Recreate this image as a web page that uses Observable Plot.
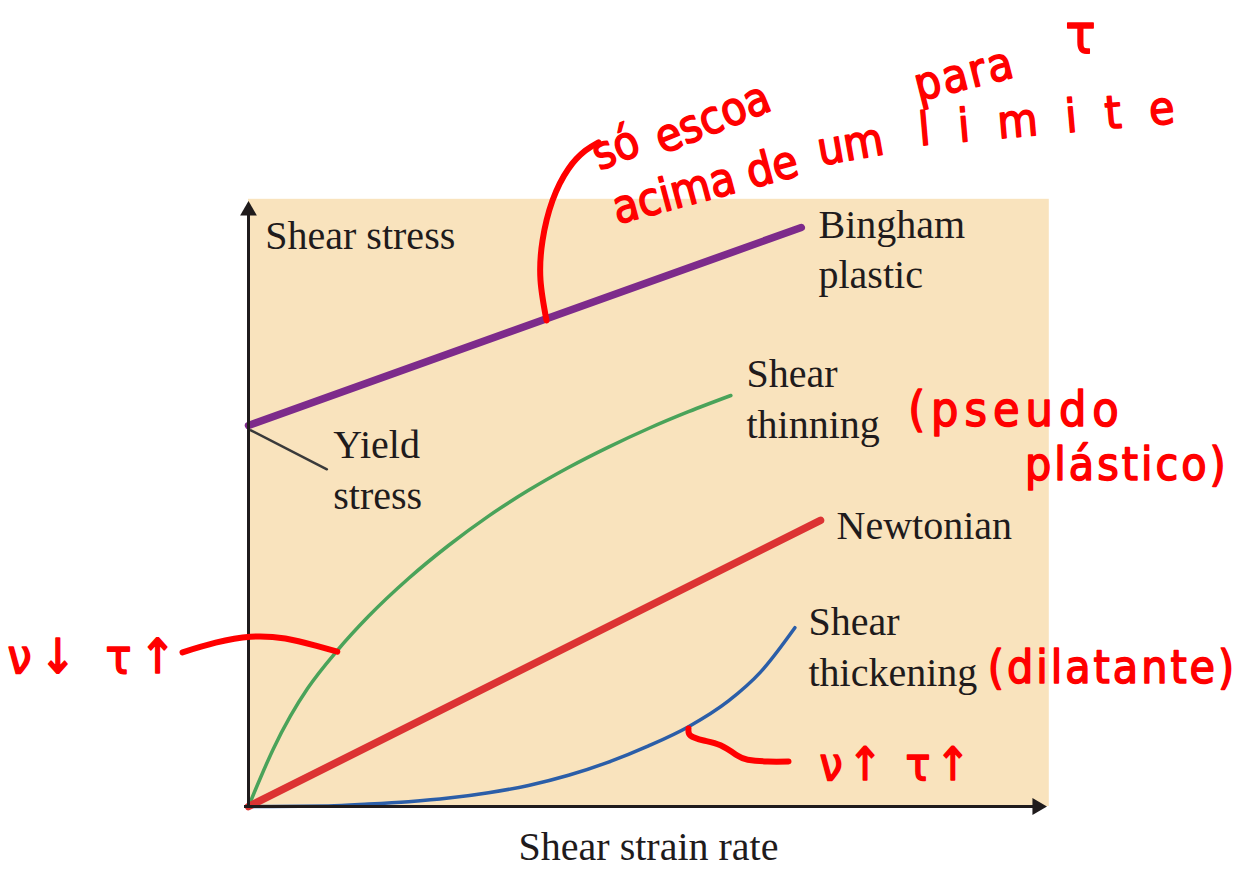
<!DOCTYPE html>
<html>
<head>
<meta charset="utf-8">
<script src="https://cdn.jsdelivr.net/npm/d3@7"></script>
<script src="https://cdn.jsdelivr.net/npm/@observablehq/plot@0.6"></script>
<style>
  html, body { margin: 0; padding: 0; background: #ffffff; }
  #chart svg { display: block; }
</style>
</head>
<body>
<div id="chart"></div>
<script>
// ---- Data (x = shear strain rate, y = shear stress; arbitrary units 0–10) ----
const binghamX = [0, 6.91];
const binghamY = [6.35, 9.65];

const newtonX = [0, 7.15];
const newtonY = [0, 4.77];

const thinningX = [0, 0.15, 0.31, 0.525, 0.74, 1.11, 1.5, 2.0, 2.5, 3.0, 3.5, 4.0, 4.5, 5.0, 5.5, 6.03];
const thinningY = [0, 0.48, 0.96, 1.51, 1.97, 2.6, 3.17, 3.8, 4.35, 4.84, 5.27, 5.65, 5.99, 6.3, 6.58, 6.85];

const thickeningX = [0, 1.0, 1.5, 2.0, 2.5, 3.0, 3.5, 4.0, 4.5, 5.0, 5.5, 6.0, 6.4, 6.83];
const thickeningY = [0, 0.01, 0.04, 0.08, 0.14, 0.23, 0.35, 0.52, 0.74, 1.01, 1.33, 1.76, 2.24, 2.98];

const yieldLeaderX = [0.03, 0.98];
const yieldLeaderY = [6.27, 5.62];

// panel and axes extents
const panelX = [0, 10.01];
const panelY = [0, 10.12];
const axisXEnd = 9.86;
const axisYEnd = 9.93;

// printed labels
const curveLabels = ["Bingham\nplastic", "Shear\nthinning", "Newtonian", "Shear\nthickening", "Yield\nstress"];
const curveLabelX = [7.125, 6.225, 7.35, 7.0, 1.06];
const curveLabelY = [9.33, 6.84, 4.73, 2.7, 5.65];
const yTitle = "Shear stress";
const yTitleAt = [0.21, 9.5];
const xTitle = "Shear strain rate";
const xTitleAt = [5.0, -0.68];

// handwritten notes (red)
const noteText = ["só", "escoa", "para", "τ", "acima de", "um", "limite",
                  "(pseudo", "plástico)", "(dilatante)", "ν↓ τ↑", "ν↑ τ↑"];
const noteX = [4.59, 5.8, 8.95, 10.4, 5.71, 7.525, 10.15, 9.6, 10.98, 10.8, -1.91, 8.11];
const noteY = [10.97, 11.47, 12.2, 12.85, 10.35, 11.02, 11.47, 6.6, 5.68, 2.3, 2.48, 0.68];
const noteRotate = [-22, -22, -14, 0, -15, -10, -5, 0, 0, 0, 0, 0];
const noteSize = [46, 46, 46, 56, 46, 46, 46, 48, 46, 46, 48, 46];
const noteSpacing = [0, 0, 2, 0, 0, 0, 28, 6, 3, 3, 8, 5];

const strokeBinghamX = [3.725, 3.65, 3.675, 3.8, 4.0, 4.21, 4.375];
const strokeBinghamY = [8.1, 8.77, 9.43, 10.1, 10.63, 10.93, 11.07];
const strokeThinX = [-0.825, -0.41, 0.025, 0.46, 0.84, 1.11];
const strokeThinY = [2.57, 2.73, 2.83, 2.8, 2.68, 2.58];
const strokeThickX = [5.5, 5.525, 5.69, 5.9, 6.11, 6.24, 6.49, 6.75];
const strokeThickY = [1.3, 1.18, 1.1, 1.02, 0.85, 0.78, 0.75, 0.75];

// ---- build tables ----
const pts = (xs, ys) => xs.map((x, i) => ({x, y: ys[i]}));
const labels = curveLabels.map((t, i) => ({t, x: curveLabelX[i], y: curveLabelY[i]}));
const notes = noteText.map((t, i) => ({t, x: noteX[i], y: noteY[i], r: noteRotate[i], s: noteSize[i]}));

const ink = "#1f1b1c";
const serif = "'Liberation Serif', 'DejaVu Serif', serif";
const hand = "'DejaVu Sans Condensed', 'Liberation Sans Narrow', 'Noto Sans', sans-serif";
const pen = "#ff0000";

const chart = Plot.plot({
  width: 1252,
  height: 869,
  margin: 0,
  style: {background: "#ffffff", overflow: "visible"},
  x: {domain: [0, 10], range: [248, 1048], axis: null},
  y: {domain: [0, 10], range: [806, 206], axis: null},
  marks: [
    Plot.rect([0], {x1: panelX[0], x2: panelX[1], y1: panelY[0], y2: panelY[1], fill: "#f9e3bd"}),
    // curves
    Plot.line(pts(thickeningX, thickeningY), {x: "x", y: "y", stroke: "#2b5ea8", strokeWidth: 3.5, curve: "monotone-x"}),
    Plot.line(pts(thinningX, thinningY), {x: "x", y: "y", stroke: "#4aa35a", strokeWidth: 3.5, curve: "monotone-x"}),
    Plot.line(pts(newtonX, newtonY), {x: "x", y: "y", stroke: "#dc3333", strokeWidth: 7.5}),
    Plot.line(pts(binghamX, binghamY), {x: "x", y: "y", stroke: "#7d2b8b", strokeWidth: 7.5}),
    Plot.line(pts(yieldLeaderX, yieldLeaderY), {x: "x", y: "y", stroke: "#3a3a3a", strokeWidth: 2.5}),
    // axes
    Plot.ruleX([0], {y1: 0, y2: axisYEnd, stroke: ink, strokeWidth: 3}),
    Plot.ruleY([0], {x1: -0.05, x2: axisXEnd, stroke: ink, strokeWidth: 3}),
    Plot.dot([0], {x: 0, y: axisYEnd, symbol: "triangle2", r: 8, fill: ink, stroke: null}),
    Plot.dot([0], {x: axisXEnd, y: 0, symbol: "triangle2", r: 8, fill: ink, stroke: null, rotate: 90}),
    // printed labels
    Plot.text(labels, {x: "x", y: "y", text: "t", textAnchor: "start", lineAnchor: "middle", lineHeight: 1.27,
      fontSize: 40, fontFamily: serif, fill: ink}),
    Plot.text([yTitle], {x: yTitleAt[0], y: yTitleAt[1], text: d => d, textAnchor: "start", lineAnchor: "middle",
      fontSize: 40, fontFamily: serif, fill: ink}),
    Plot.text([xTitle], {x: xTitleAt[0], y: xTitleAt[1], text: d => d, textAnchor: "middle", lineAnchor: "middle",
      fontSize: 40, fontFamily: serif, fill: ink}),
    // handwritten strokes
    Plot.line(pts(strokeBinghamX, strokeBinghamY), {x: "x", y: "y", stroke: pen, strokeWidth: 6, curve: "natural", strokeLinecap: "round"}),
    Plot.line(pts(strokeThinX, strokeThinY), {x: "x", y: "y", stroke: pen, strokeWidth: 6, curve: "natural", strokeLinecap: "round"}),
    Plot.line(pts(strokeThickX, strokeThickY), {x: "x", y: "y", stroke: pen, strokeWidth: 6, curve: "natural", strokeLinecap: "round"}),
    Plot.text(notes, {x: "x", y: "y", text: "t", rotate: "r", fontSize: "s", textAnchor: "middle", lineAnchor: "middle",
      fontFamily: hand, fill: pen, stroke: pen, strokeWidth: 1.5})
  ]
});
// hand-lettering is wider than the font: widen letter spacing per note
d3.select(chart).selectAll("text").each(function() {
  const i = noteText.indexOf(this.textContent);
  if (i >= 0 && noteSpacing[i]) {
    this.setAttribute("letter-spacing", noteSpacing[i]);
    this.style.letterSpacing = noteSpacing[i] + "px";
  }
});
document.getElementById("chart").appendChild(chart);
</script>
</body>
</html>
